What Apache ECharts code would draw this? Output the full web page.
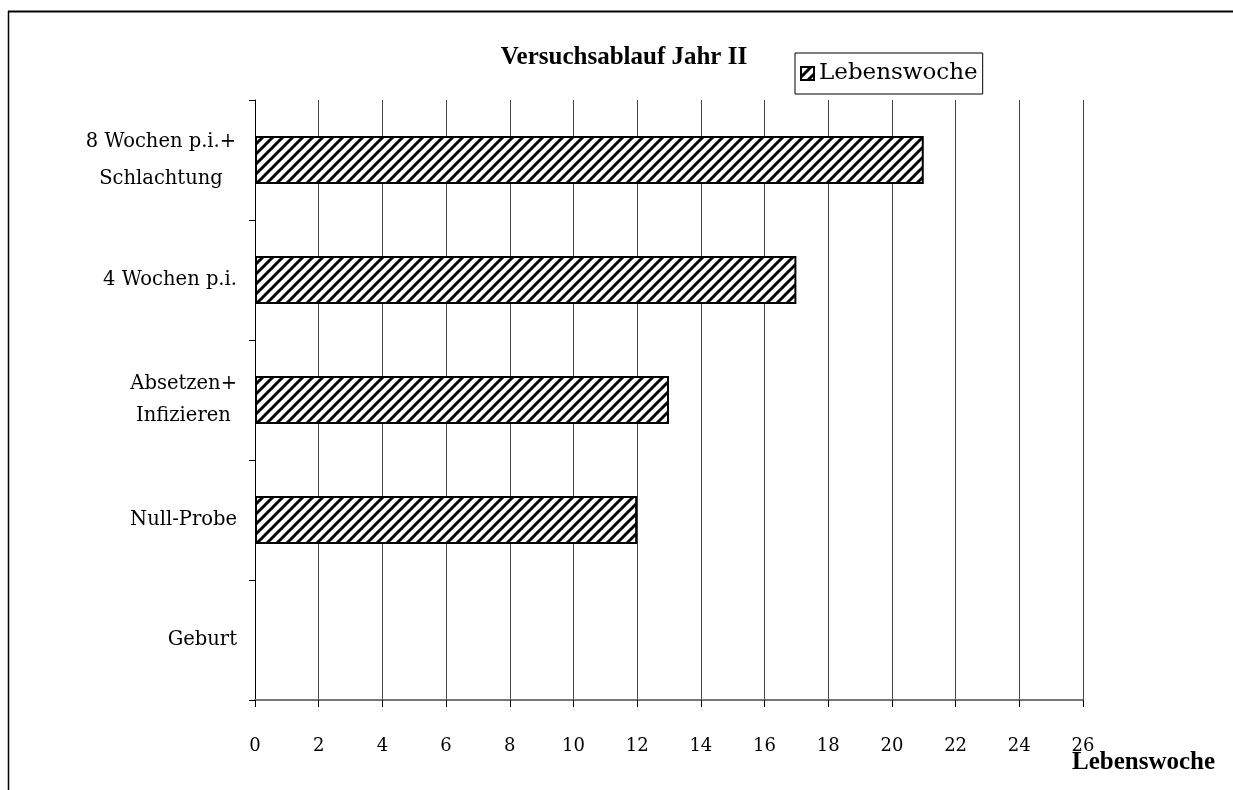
<!DOCTYPE html>
<html>
<head>
<meta charset="utf-8">
<style>
  html, body { margin: 0; padding: 0; background: #fff; }
  #chart { width: 1233px; height: 790px; }
</style>
<script src="https://cdn.jsdelivr.net/npm/echarts@6/dist/echarts.min.js"></script>
</head>
<body>
<div id="chart"></div>
<script>
// Stages of the trial (bottom to top) and the week of life at each stage
const categories = ['Geburt', 'Null-Probe', 'Absetzen+\nInfizieren ', '4 Wochen p.i.', '8 Wochen p.i.+\nSchlachtung'];
const lebenswoche = [0, 12, 13, 17, 21];
const seriesName = 'Lebenswoche';
const titleText = 'Versuchsablauf Jahr II';
const axisName = 'Lebenswoche';

const FONT = '"DejaVu Serif", "Liberation Serif", serif';
const BOLD_FONT = '"Liberation Serif", "DejaVu Serif", serif';

// Diagonal hatch used to fill the bars
function hatchPattern() {
  const s = 10;
  const c = document.createElement('canvas');
  c.width = s; c.height = s;
  const g = c.getContext('2d');
  g.fillStyle = '#fff';
  g.fillRect(0, 0, s, s);
  g.strokeStyle = '#000';
  g.lineWidth = 3;
  g.beginPath();
  for (let k = -1; k <= 1; k++) {
    g.moveTo(k * s - 1, s + 1);
    g.lineTo(k * s + s + 1, -1);
  }
  g.stroke();
  return { image: c, repeat: 'repeat' };
}
const hatch = hatchPattern();

// A zero-length bar gets no outline
const barData = lebenswoche.map(function (v) {
  return v === 0 ? { value: v, itemStyle: { borderWidth: 0 } } : v;
});

const chart = echarts.init(document.getElementById('chart'), null, { renderer: 'canvas' });

chart.setOption({
  animation: false,
  backgroundColor: '#fff',
  textStyle: { fontFamily: FONT },
  title: {
    text: titleText,
    left: 619, top: 40,
    textAlign: 'center',
    textStyle: { fontFamily: BOLD_FONT, fontSize: 25, fontWeight: 'bold', color: '#000' }
  },
  legend: {
    data: [seriesName],
    left: 795, top: 53,
    padding: [9, 5, 9, 5],
    borderColor: '#000', borderWidth: 1,
    itemWidth: 13, itemHeight: 13, itemGap: 6,
    icon: 'rect',
    textStyle: { fontFamily: FONT, fontSize: 23, color: '#000', padding: [0, 0, 0, 0] }
  },
  grid: { left: 255, right: 150, top: 100, bottom: 90, containLabel: false },
  xAxis: {
    type: 'value',
    min: 0, max: 26, interval: 2,
    axisLine: { show: true, lineStyle: { color: '#777', width: 2 } },
    axisTick: { show: true, length: 7, lineStyle: { color: '#000', width: 1 } },
    axisLabel: { margin: 37, fontFamily: FONT, fontSize: 18, color: '#000' },
    splitLine: { show: true, lineStyle: { color: '#444', width: 1 } }
  },
  yAxis: {
    type: 'category',
    data: categories,
    axisLine: { show: true, onZero: false, lineStyle: { color: '#000', width: 1 } },
    axisTick: { show: true, length: 6, lineStyle: { color: '#000' } },
    axisLabel: {
      margin: 18,
      fontFamily: FONT, fontSize: 19.5, color: '#000', lineHeight: 32,
      formatter: function (v) {
        if (v.indexOf('Schlachtung') >= 0) {
          return v.split('\n').map(function (s) { return '{c|' + s + '}'; }).join('\n');
        }
        return v;
      },
      rich: {
        c: { width: 152, align: 'center', fontFamily: FONT, fontSize: 19.5, color: '#000', lineHeight: 37 }
      }
    },
    splitLine: { show: false }
  },
  series: [{
    name: seriesName,
    type: 'bar',
    data: barData,
    barWidth: 48,
    itemStyle: { color: hatch, borderColor: '#000', borderWidth: 2 }
  }],
  graphic: [
    {
      type: 'text', left: 1072, top: 750,
      style: { text: axisName, fontFamily: BOLD_FONT, fontSize: 25, fontWeight: 'bold', fill: '#000' }
    },
    { type: 'line', shape: { x1: 8, y1: 11.5, x2: 1233, y2: 11.5 }, style: { stroke: '#000', lineWidth: 2 } },
    { type: 'line', shape: { x1: 8.5, y1: 11, x2: 8.5, y2: 790 }, style: { stroke: '#000', lineWidth: 1.5 } }
  ]
});
</script>
</body>
</html>
